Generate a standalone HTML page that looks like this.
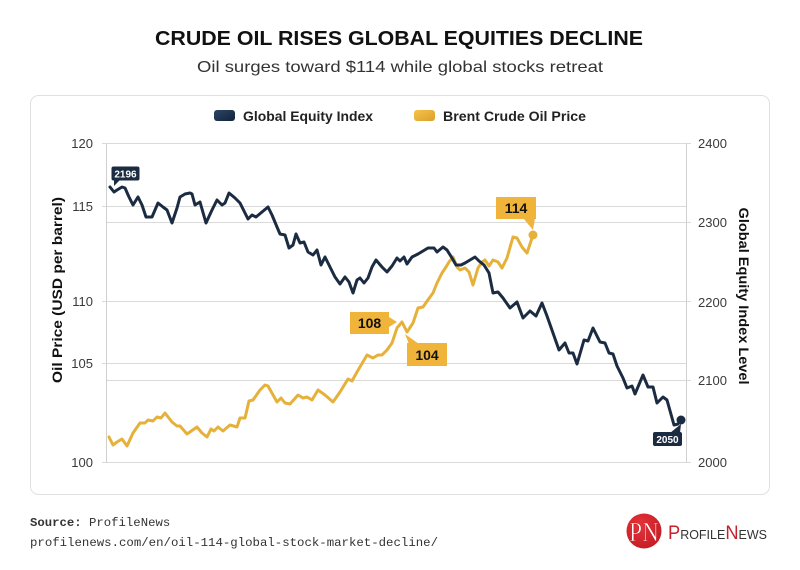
<!DOCTYPE html>
<html>
<head>
<meta charset="utf-8">
<style>
  html, body { margin:0; padding:0; background:#ffffff; }
  body { width:800px; height:570px; overflow:hidden; }
  svg { display:block; }
</style>
</head>
<body>
<svg width="800" height="570" viewBox="0 0 800 570" xmlns="http://www.w3.org/2000/svg">
  <defs>
    <linearGradient id="gNavy" x1="0" y1="0" x2="1" y2="1">
      <stop offset="0" stop-color="#2b4666"/>
      <stop offset="1" stop-color="#13223a"/>
    </linearGradient>
    <linearGradient id="gGold" x1="0" y1="0" x2="1" y2="1">
      <stop offset="0" stop-color="#f5c24c"/>
      <stop offset="1" stop-color="#dba02a"/>
    </linearGradient>
    <radialGradient id="gRed" cx="0.4" cy="0.35" r="0.7">
      <stop offset="0" stop-color="#e8343a"/>
      <stop offset="1" stop-color="#c41c24"/>
    </radialGradient>
  </defs>

  <rect x="0" y="0" width="800" height="570" fill="#ffffff"/>

  <!-- Title -->
  <text x="399" y="45" text-anchor="middle" font-family="Liberation Sans, sans-serif" font-weight="bold" font-size="20" fill="#111" textLength="488" lengthAdjust="spacingAndGlyphs">CRUDE OIL RISES GLOBAL EQUITIES DECLINE</text>
  <text x="400" y="72" text-anchor="middle" font-family="Liberation Sans, sans-serif" font-size="16" fill="#333" textLength="406" lengthAdjust="spacingAndGlyphs">Oil surges toward $114 while global stocks retreat</text>

  <!-- Card -->
  <rect x="30.5" y="95.5" width="739" height="399" rx="8" ry="8" fill="#ffffff" stroke="#e0e0e0" stroke-width="1"/>

  <!-- Legend -->
  <rect x="214" y="110" width="21" height="11" rx="3" fill="url(#gNavy)"/>
  <text x="243" y="121" font-family="Liberation Sans, sans-serif" font-weight="bold" font-size="13.5" fill="#222" textLength="130" lengthAdjust="spacingAndGlyphs">Global Equity Index</text>
  <rect x="414" y="110" width="21" height="11" rx="3" fill="url(#gGold)"/>
  <text x="443" y="121" font-family="Liberation Sans, sans-serif" font-weight="bold" font-size="13.5" fill="#222" textLength="143" lengthAdjust="spacingAndGlyphs">Brent Crude Oil Price</text>

  <!-- Gridlines -->
  <g stroke="#dadada" stroke-width="1">
    <line x1="102" y1="143.5" x2="691" y2="143.5"/>
    <line x1="102" y1="206.5" x2="686" y2="206.5"/>
    <line x1="106" y1="222.5" x2="691" y2="222.5"/>
    <line x1="102" y1="301.5" x2="691" y2="301.5"/>
    <line x1="102" y1="363.5" x2="686" y2="363.5"/>
    <line x1="106" y1="380.5" x2="691" y2="380.5"/>
    <line x1="102" y1="462.5" x2="691" y2="462.5"/>
  </g>
  <!-- Axis lines -->
  <g stroke="#d0d0d0" stroke-width="1">
    <line x1="106.5" y1="143" x2="106.5" y2="463"/>
    <line x1="686.5" y1="143" x2="686.5" y2="463"/>
  </g>

  <!-- Left tick labels -->
  <g font-family="Liberation Sans, sans-serif" font-size="13" fill="#3a3a3a" text-anchor="end">
    <text x="93" y="148">120</text>
    <text x="93" y="211">115</text>
    <text x="93" y="306">110</text>
    <text x="93" y="368">105</text>
    <text x="93" y="467">100</text>
  </g>
  <!-- Right tick labels -->
  <g font-family="Liberation Sans, sans-serif" font-size="13" fill="#3a3a3a" text-anchor="start">
    <text x="698" y="148">2400</text>
    <text x="698" y="227">2300</text>
    <text x="698" y="307">2200</text>
    <text x="698" y="385">2100</text>
    <text x="698" y="467">2000</text>
  </g>

  <!-- Axis titles -->
  <text transform="translate(62,290) rotate(-90)" text-anchor="middle" font-family="Liberation Sans, sans-serif" font-weight="bold" font-size="14" fill="#111" textLength="186" lengthAdjust="spacingAndGlyphs">Oil Price (USD per barrel)</text>
  <text transform="translate(739,296) rotate(90)" text-anchor="middle" font-family="Liberation Sans, sans-serif" font-weight="bold" font-size="14" fill="#111" textLength="177" lengthAdjust="spacingAndGlyphs">Global Equity Index Level</text>

  <!-- Oil line -->
  <polyline fill="none" stroke="#e6b13a" stroke-width="3" stroke-linejoin="round" stroke-linecap="round"
    points="109,437 113,445 117,442 122,439 127,446 133,433 140,423 145,423 148,420 153,421 157,417 161,418 165,413 172,422 177,426 180,426 187,434 197,427 202,433 207,437 211,429 214,431 218,427 223,431 230,425 237,427 240,418 245,418 249,401 253,400 260,390 265,385 268,386 277,402 281,398 285,403 290,404 298,395 303,398 307,397 312,400 318,390 325,395 333,402 340,392 348,379 352,381 357,372 367,355 373,358 378,355 382,355 387,350 392,343 397,328 402,322 407,332 413,323 418,308 423,307 430,297 433,293 437,283 442,273 446,267 449,262 453,257 457,267 460,270 465,268 469,272 473,285 478,268 482,262 485,260 489,266 493,260 498,262 502,268 507,258 513,237 517,238 522,247 527,253 533,235"/>

  <!-- Equity line -->
  <polyline fill="none" stroke="#1b2c42" stroke-width="3" stroke-linejoin="round" stroke-linecap="round"
    points="110,187 114,192 117,190 122,187 125,188 129,197 133,205 138,197 142,205 146,217 152,217 158,203 163,207 167,210 172,223 177,208 180,197 185,194 190,193 192,194 195,205 200,202 206,223 212,210 217,200 222,205 225,203 229,193 235,198 240,203 245,213 248,219 252,215 256,217 262,212 268,207 272,215 277,227 280,234 285,235 289,248 293,245 296,234 300,243 304,242 308,252 313,255 317,250 321,265 325,257 330,267 335,277 340,284 345,277 349,282 353,293 357,280 360,278 364,283 368,278 372,267 376,260 382,267 387,272 392,266 397,258 400,261 404,257 407,264 412,257 418,254 423,251 428,248 434,248 437,252 443,247 447,250 452,258 456,265 461,265 465,263 470,260 475,257 479,261 484,265 489,273 493,293 498,292 503,298 510,308 517,302 523,318 530,311 536,316 542,303 547,316 553,333 559,350 565,343 569,353 573,353 577,364 584,340 588,341 593,328 600,342 605,343 609,353 613,354 617,366 623,378 627,388 632,386 635,394 643,375 648,387 653,387 657,403 663,397 667,400 674,425 678,424 681,420"/>

  <!-- End dots -->
  <circle cx="533" cy="235" r="4.5" fill="#e6b13a"/>
  <circle cx="681" cy="420" r="4.5" fill="#1b2c42"/>

  <!-- Label 2196 -->
  <polygon points="114,180 120,180 114,186" fill="#1b2c42"/>
  <rect x="111.5" y="166.5" width="28" height="14" rx="2" fill="#1b2c42"/>
  <text x="125.5" y="177.5" text-anchor="middle" font-family="Liberation Sans, sans-serif" font-weight="bold" font-size="10" fill="#ffffff">2196</text>

  <!-- Label 108 -->
  <polygon points="389,317 389,327 397,322" fill="#f0b43a"/>
  <rect x="350" y="312" width="39" height="22" fill="#f0b43a"/>
  <text x="369.5" y="328" text-anchor="middle" font-family="Liberation Sans, sans-serif" font-weight="bold" font-size="14" fill="#111">108</text>

  <!-- Label 104 -->
  <polygon points="409,344 419,344 405,334" fill="#f0b43a"/>
  <rect x="407" y="343" width="40" height="23" fill="#f0b43a"/>
  <text x="427" y="360" text-anchor="middle" font-family="Liberation Sans, sans-serif" font-weight="bold" font-size="14" fill="#111">104</text>

  <!-- Label 114 -->
  <polygon points="523,218 535,218 533,230" fill="#f0b43a"/>
  <rect x="496" y="197" width="40" height="22" fill="#f0b43a"/>
  <text x="516" y="213" text-anchor="middle" font-family="Liberation Sans, sans-serif" font-weight="bold" font-size="14" fill="#111">114</text>

  <!-- Label 2050 -->
  <polygon points="670,433 680,433 681,424" fill="#1b2c42"/>
  <rect x="653" y="432" width="29" height="14" rx="2" fill="#1b2c42"/>
  <text x="667.5" y="443" text-anchor="middle" font-family="Liberation Sans, sans-serif" font-weight="bold" font-size="10" fill="#ffffff">2050</text>

  <!-- Footer -->
  <text x="30" y="526" font-family="Liberation Mono, monospace" font-size="12.3" fill="#333"><tspan font-weight="bold">Source:</tspan> ProfileNews</text>
  <text x="30" y="546" font-family="Liberation Mono, monospace" font-size="12.3" fill="#333" textLength="408" lengthAdjust="spacingAndGlyphs">profilenews.com/en/oil-114-global-stock-market-decline/</text>

  <!-- Logo -->
  <circle cx="644" cy="531" r="17.5" fill="url(#gRed)"/>
  <text x="644" y="541" text-anchor="middle" font-family="Liberation Serif, serif" font-size="27" fill="#ffffff" stroke="#c41c24" stroke-width="0.6" textLength="30" lengthAdjust="spacingAndGlyphs">PN</text>
  <text x="668" y="539" font-family="Liberation Sans, sans-serif" fill="#333" textLength="99" lengthAdjust="spacingAndGlyphs"><tspan fill="#c8202a" font-size="19">P</tspan><tspan font-size="13">ROFILE</tspan><tspan fill="#c8202a" font-size="19">N</tspan><tspan font-size="13">EWS</tspan></text>
</svg>
</body>
</html>
